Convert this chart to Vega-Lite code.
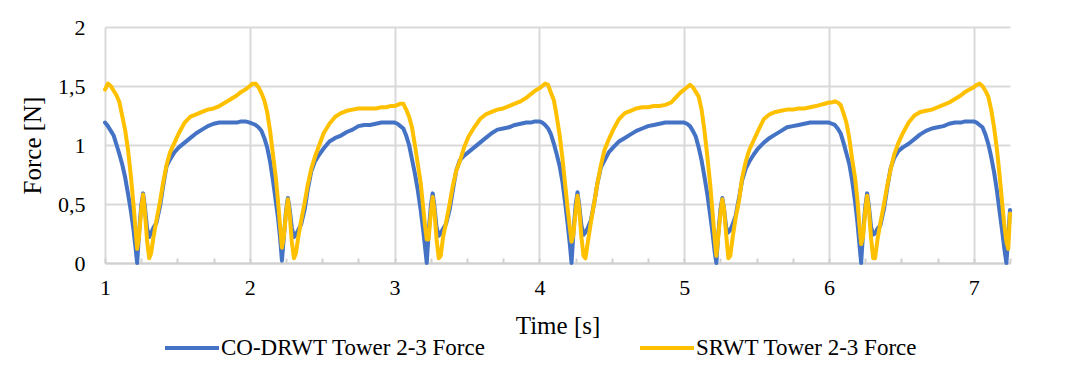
{
"$schema":"https://vega.github.io/schema/vega-lite/v6.json",
"width":905,"height":236,
"autosize":{"type":"none"},
"padding":{"left":105,"top":27,"right":57,"bottom":103},
"background":"white",
"config":{"view":{"stroke":null},"font":"Liberation Serif"},
"data":{"values":[
{"t":1.00,"co":1.19,"sr":1.47},{"t":1.02,"co":1.16,"sr":1.52},{"t":1.04,"co":1.12,"sr":1.50},{"t":1.06,"co":1.08,"sr":1.46},{"t":1.08,"co":1.00,"sr":1.42},{"t":1.10,"co":0.92,"sr":1.36},{"t":1.12,"co":0.83,"sr":1.24},{"t":1.14,"co":0.72,"sr":1.12},{"t":1.16,"co":0.58,"sr":0.95},{"t":1.18,"co":0.43,"sr":0.72},{"t":1.195,"co":0.30,"sr":0.52},{"t":1.21,"co":0.14,"sr":0.30},{"t":1.222,"co":0.00,"sr":0.12},{"t":1.235,"co":0.25,"sr":0.22},{"t":1.25,"co":0.48,"sr":0.45},{"t":1.263,"co":0.59,"sr":0.58},{"t":1.275,"co":0.48,"sr":0.44},{"t":1.29,"co":0.30,"sr":0.20},{"t":1.305,"co":0.22,"sr":0.04},{"t":1.318,"co":0.25,"sr":0.08},{"t":1.335,"co":0.30,"sr":0.22},{"t":1.355,"co":0.34,"sr":0.36},{"t":1.38,"co":0.48,"sr":0.52},{"t":1.40,"co":0.64,"sr":0.67},{"t":1.425,"co":0.82,"sr":0.83},{"t":1.45,"co":0.88,"sr":0.94},{"t":1.48,"co":0.94,"sr":1.02},{"t":1.51,"co":0.98,"sr":1.10},{"t":1.55,"co":1.02,"sr":1.19},{"t":1.59,"co":1.06,"sr":1.24},{"t":1.63,"co":1.10,"sr":1.26},{"t":1.67,"co":1.13,"sr":1.28},{"t":1.71,"co":1.16,"sr":1.30},{"t":1.75,"co":1.18,"sr":1.31},{"t":1.79,"co":1.19,"sr":1.33},{"t":1.83,"co":1.19,"sr":1.36},{"t":1.87,"co":1.19,"sr":1.39},{"t":1.91,"co":1.19,"sr":1.42},{"t":1.94,"co":1.20,"sr":1.45},{"t":1.97,"co":1.20,"sr":1.47},
{"t":2.00,"co":1.19,"sr":1.50},{"t":2.02,"co":1.18,"sr":1.52},{"t":2.04,"co":1.17,"sr":1.52},{"t":2.06,"co":1.15,"sr":1.49},{"t":2.08,"co":1.12,"sr":1.44},{"t":2.10,"co":1.06,"sr":1.38},{"t":2.12,"co":0.98,"sr":1.28},{"t":2.14,"co":0.86,"sr":1.12},{"t":2.16,"co":0.70,"sr":0.92},{"t":2.18,"co":0.52,"sr":0.72},{"t":2.195,"co":0.38,"sr":0.52},{"t":2.21,"co":0.20,"sr":0.30},{"t":2.222,"co":0.02,"sr":0.13},{"t":2.235,"co":0.22,"sr":0.22},{"t":2.25,"co":0.44,"sr":0.42},{"t":2.263,"co":0.55,"sr":0.54},{"t":2.275,"co":0.46,"sr":0.42},{"t":2.29,"co":0.30,"sr":0.18},{"t":2.305,"co":0.22,"sr":0.04},{"t":2.318,"co":0.24,"sr":0.08},{"t":2.335,"co":0.28,"sr":0.22},{"t":2.355,"co":0.33,"sr":0.36},{"t":2.38,"co":0.46,"sr":0.52},{"t":2.40,"co":0.62,"sr":0.66},{"t":2.425,"co":0.78,"sr":0.80},{"t":2.45,"co":0.86,"sr":0.90},{"t":2.48,"co":0.92,"sr":1.00},{"t":2.51,"co":0.97,"sr":1.10},{"t":2.55,"co":1.03,"sr":1.18},{"t":2.59,"co":1.06,"sr":1.24},{"t":2.63,"co":1.08,"sr":1.27},{"t":2.67,"co":1.11,"sr":1.29},{"t":2.71,"co":1.13,"sr":1.30},{"t":2.75,"co":1.16,"sr":1.31},{"t":2.79,"co":1.17,"sr":1.31},{"t":2.83,"co":1.17,"sr":1.31},{"t":2.87,"co":1.18,"sr":1.31},{"t":2.91,"co":1.19,"sr":1.32},{"t":2.94,"co":1.19,"sr":1.32},{"t":2.97,"co":1.19,"sr":1.33},
{"t":3.00,"co":1.19,"sr":1.33},{"t":3.02,"co":1.18,"sr":1.34},{"t":3.04,"co":1.16,"sr":1.35},{"t":3.06,"co":1.14,"sr":1.35},{"t":3.08,"co":1.08,"sr":1.30},{"t":3.10,"co":1.00,"sr":1.24},{"t":3.12,"co":0.88,"sr":1.15},{"t":3.14,"co":0.76,"sr":1.00},{"t":3.16,"co":0.62,"sr":0.84},{"t":3.18,"co":0.45,"sr":0.68},{"t":3.195,"co":0.30,"sr":0.50},{"t":3.21,"co":0.14,"sr":0.32},{"t":3.222,"co":0.00,"sr":0.20},{"t":3.235,"co":0.26,"sr":0.20},{"t":3.25,"co":0.48,"sr":0.42},{"t":3.263,"co":0.59,"sr":0.56},{"t":3.275,"co":0.48,"sr":0.44},{"t":3.29,"co":0.30,"sr":0.20},{"t":3.305,"co":0.23,"sr":0.04},{"t":3.318,"co":0.25,"sr":0.06},{"t":3.335,"co":0.29,"sr":0.22},{"t":3.355,"co":0.33,"sr":0.34},{"t":3.38,"co":0.45,"sr":0.50},{"t":3.40,"co":0.60,"sr":0.64},{"t":3.425,"co":0.78,"sr":0.78},{"t":3.45,"co":0.87,"sr":0.86},{"t":3.48,"co":0.91,"sr":0.98},{"t":3.51,"co":0.94,"sr":1.07},{"t":3.55,"co":0.98,"sr":1.15},{"t":3.59,"co":1.02,"sr":1.22},{"t":3.63,"co":1.06,"sr":1.26},{"t":3.67,"co":1.10,"sr":1.28},{"t":3.71,"co":1.13,"sr":1.30},{"t":3.75,"co":1.14,"sr":1.31},{"t":3.79,"co":1.15,"sr":1.33},{"t":3.83,"co":1.17,"sr":1.35},{"t":3.87,"co":1.18,"sr":1.37},{"t":3.91,"co":1.19,"sr":1.40},{"t":3.94,"co":1.19,"sr":1.43},{"t":3.97,"co":1.20,"sr":1.46},
{"t":4.00,"co":1.20,"sr":1.48},{"t":4.02,"co":1.19,"sr":1.50},{"t":4.04,"co":1.17,"sr":1.52},{"t":4.06,"co":1.14,"sr":1.51},{"t":4.08,"co":1.09,"sr":1.44},{"t":4.10,"co":1.01,"sr":1.38},{"t":4.12,"co":0.92,"sr":1.24},{"t":4.14,"co":0.82,"sr":1.08},{"t":4.16,"co":0.68,"sr":0.88},{"t":4.18,"co":0.49,"sr":0.64},{"t":4.195,"co":0.33,"sr":0.46},{"t":4.21,"co":0.16,"sr":0.30},{"t":4.222,"co":0.00,"sr":0.18},{"t":4.235,"co":0.26,"sr":0.24},{"t":4.25,"co":0.49,"sr":0.44},{"t":4.263,"co":0.60,"sr":0.57},{"t":4.275,"co":0.49,"sr":0.46},{"t":4.29,"co":0.32,"sr":0.22},{"t":4.305,"co":0.24,"sr":0.06},{"t":4.318,"co":0.26,"sr":0.04},{"t":4.335,"co":0.30,"sr":0.18},{"t":4.355,"co":0.36,"sr":0.34},{"t":4.38,"co":0.52,"sr":0.52},{"t":4.40,"co":0.67,"sr":0.67},{"t":4.425,"co":0.81,"sr":0.83},{"t":4.45,"co":0.87,"sr":0.96},{"t":4.48,"co":0.94,"sr":1.05},{"t":4.51,"co":0.98,"sr":1.13},{"t":4.55,"co":1.03,"sr":1.22},{"t":4.59,"co":1.06,"sr":1.27},{"t":4.63,"co":1.09,"sr":1.29},{"t":4.67,"co":1.12,"sr":1.31},{"t":4.71,"co":1.14,"sr":1.32},{"t":4.75,"co":1.16,"sr":1.32},{"t":4.79,"co":1.17,"sr":1.33},{"t":4.83,"co":1.18,"sr":1.33},{"t":4.87,"co":1.19,"sr":1.34},{"t":4.91,"co":1.19,"sr":1.36},{"t":4.94,"co":1.19,"sr":1.40},{"t":4.97,"co":1.19,"sr":1.44},
{"t":5.00,"co":1.19,"sr":1.47},{"t":5.02,"co":1.18,"sr":1.49},{"t":5.04,"co":1.16,"sr":1.51},{"t":5.06,"co":1.12,"sr":1.49},{"t":5.08,"co":1.07,"sr":1.45},{"t":5.10,"co":0.98,"sr":1.41},{"t":5.12,"co":0.87,"sr":1.30},{"t":5.14,"co":0.73,"sr":1.12},{"t":5.16,"co":0.58,"sr":0.90},{"t":5.18,"co":0.40,"sr":0.66},{"t":5.195,"co":0.26,"sr":0.44},{"t":5.21,"co":0.10,"sr":0.22},{"t":5.222,"co":0.00,"sr":0.06},{"t":5.235,"co":0.24,"sr":0.22},{"t":5.25,"co":0.45,"sr":0.42},{"t":5.263,"co":0.55,"sr":0.54},{"t":5.275,"co":0.46,"sr":0.46},{"t":5.29,"co":0.30,"sr":0.24},{"t":5.305,"co":0.26,"sr":0.04},{"t":5.318,"co":0.28,"sr":0.06},{"t":5.335,"co":0.33,"sr":0.22},{"t":5.355,"co":0.40,"sr":0.38},{"t":5.38,"co":0.56,"sr":0.54},{"t":5.40,"co":0.70,"sr":0.72},{"t":5.425,"co":0.80,"sr":0.86},{"t":5.45,"co":0.86,"sr":0.96},{"t":5.48,"co":0.92,"sr":1.04},{"t":5.51,"co":0.97,"sr":1.12},{"t":5.55,"co":1.02,"sr":1.22},{"t":5.59,"co":1.06,"sr":1.26},{"t":5.63,"co":1.09,"sr":1.28},{"t":5.67,"co":1.12,"sr":1.29},{"t":5.71,"co":1.15,"sr":1.30},{"t":5.75,"co":1.16,"sr":1.30},{"t":5.79,"co":1.17,"sr":1.31},{"t":5.83,"co":1.18,"sr":1.31},{"t":5.87,"co":1.19,"sr":1.32},{"t":5.91,"co":1.19,"sr":1.33},{"t":5.94,"co":1.19,"sr":1.34},{"t":5.97,"co":1.19,"sr":1.35},
{"t":6.00,"co":1.19,"sr":1.36},{"t":6.02,"co":1.18,"sr":1.36},{"t":6.04,"co":1.17,"sr":1.37},{"t":6.06,"co":1.14,"sr":1.36},{"t":6.08,"co":1.10,"sr":1.34},{"t":6.10,"co":1.02,"sr":1.27},{"t":6.12,"co":0.93,"sr":1.19},{"t":6.14,"co":0.84,"sr":1.06},{"t":6.16,"co":0.70,"sr":0.88},{"t":6.18,"co":0.52,"sr":0.72},{"t":6.195,"co":0.36,"sr":0.55},{"t":6.21,"co":0.16,"sr":0.32},{"t":6.222,"co":0.00,"sr":0.16},{"t":6.235,"co":0.25,"sr":0.22},{"t":6.25,"co":0.47,"sr":0.44},{"t":6.263,"co":0.59,"sr":0.57},{"t":6.275,"co":0.49,"sr":0.46},{"t":6.29,"co":0.31,"sr":0.22},{"t":6.305,"co":0.24,"sr":0.04},{"t":6.318,"co":0.25,"sr":0.04},{"t":6.335,"co":0.29,"sr":0.20},{"t":6.355,"co":0.32,"sr":0.34},{"t":6.38,"co":0.46,"sr":0.50},{"t":6.40,"co":0.62,"sr":0.64},{"t":6.425,"co":0.80,"sr":0.79},{"t":6.45,"co":0.89,"sr":0.92},{"t":6.48,"co":0.95,"sr":1.02},{"t":6.51,"co":0.98,"sr":1.10},{"t":6.55,"co":1.01,"sr":1.19},{"t":6.59,"co":1.05,"sr":1.25},{"t":6.63,"co":1.09,"sr":1.28},{"t":6.67,"co":1.12,"sr":1.29},{"t":6.71,"co":1.14,"sr":1.30},{"t":6.75,"co":1.15,"sr":1.32},{"t":6.79,"co":1.16,"sr":1.34},{"t":6.83,"co":1.18,"sr":1.36},{"t":6.87,"co":1.19,"sr":1.39},{"t":6.91,"co":1.19,"sr":1.42},{"t":6.94,"co":1.20,"sr":1.45},{"t":6.97,"co":1.20,"sr":1.47},
{"t":7.00,"co":1.20,"sr":1.49},{"t":7.02,"co":1.19,"sr":1.51},{"t":7.04,"co":1.17,"sr":1.52},{"t":7.06,"co":1.15,"sr":1.50},{"t":7.08,"co":1.09,"sr":1.46},{"t":7.10,"co":1.01,"sr":1.41},{"t":7.12,"co":0.90,"sr":1.30},{"t":7.14,"co":0.77,"sr":1.15},{"t":7.16,"co":0.61,"sr":0.96},{"t":7.18,"co":0.42,"sr":0.72},{"t":7.195,"co":0.28,"sr":0.52},{"t":7.21,"co":0.13,"sr":0.33},{"t":7.225,"co":0.00,"sr":0.18},{"t":7.238,"co":0.22,"sr":0.12},{"t":7.25,"co":0.45,"sr":0.42}
]},
"transform":[{"fold":["co","sr"],"as":["series","f"]}],
"mark":{"type":"line","strokeWidth":4,"strokeJoin":"round","strokeCap":"round"},
"encoding":{
"x":{"field":"t","type":"quantitative","scale":{"domain":[1,7.25],"nice":false,"zero":false},
"axis":{"title":"Time [s]","values":[1,1.25,1.5,1.75,2,2.25,2.5,2.75,3,3.25,3.5,3.75,4,4.25,4.5,4.75,5,5.25,5.5,5.75,6,6.25,6.5,6.75,7,7.25],
"labelExpr":"datum.value % 1 === 0 ? format(datum.value,'d') : ''","labelFlush":false,
"gridColor":"#d9d9d9","gridWidth":2,
"gridOpacity":{"condition":{"test":"datum.value % 1 === 0","value":1},"value":0},
"domainColor":"#d0d0d0","domainWidth":2,"tickColor":"#d0d0d0","tickWidth":2,"tickSize":-5,
"labelFont":"Liberation Serif","labelFontSize":22,"labelColor":"#000","labelPadding":19,
"titleFont":"Liberation Serif","titleFontSize":25,"titleFontWeight":"normal","titleColor":"#000","titlePadding":15}},
"y":{"field":"f","type":"quantitative","scale":{"domain":[0,2],"nice":false},
"axis":{"title":"Force [N]","values":[0,0.5,1,1.5,2],
"labelExpr":"replace(format(datum.value,'~g'),'.',',')",
"gridColor":"#d9d9d9","gridWidth":2,"domain":false,"ticks":false,
"labelFont":"Liberation Serif","labelFontSize":22,"labelColor":"#000","labelPadding":20,
"titleFont":"Liberation Serif","titleFontSize":25,"titleFontWeight":"normal","titleColor":"#000","titlePadding":12}},
"color":{"field":"series","type":"nominal","scale":{"domain":["co","sr"],"range":["#4472C4","#FFC000"]},
"legend":{"title":null,"orient":"none","legendX":58,"legendY":292,"direction":"horizontal","padding":0,
"symbolType":"stroke","symbolSize":2916,"symbolStrokeWidth":4,"labelOffset":0,"columnPadding":146,"labelLimit":500,
"labelFont":"Liberation Serif","labelFontSize":23,"labelColor":"#000",
"labelExpr":"datum.label == 'co' ? 'CO-DRWT Tower 2-3 Force' : 'SRWT Tower 2-3 Force'"}}
}
}
